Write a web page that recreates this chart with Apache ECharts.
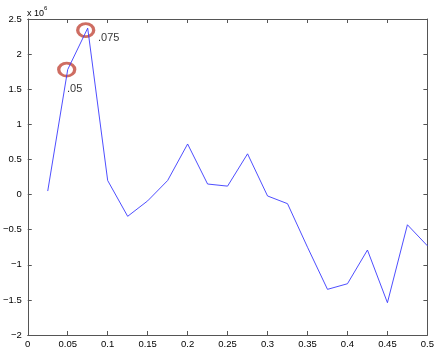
<!DOCTYPE html>
<html>
<head>
<meta charset="utf-8">
<script src="https://cdn.jsdelivr.net/npm/echarts@6/dist/echarts.min.js"></script>
<style>html,body{margin:0;padding:0;background:#fff}#c{width:437px;height:349px}</style>
</head>
<body>
<div id="c"></div>
<script>
// Data (y values in units of 10^6)
const xValues = [0.025,0.05,0.075,0.1,0.125,0.15,0.175,0.2,0.225,0.25,0.275,0.3,0.325,0.35,0.375,0.4,0.425,0.45,0.475,0.5];
const yValues = [0.05,1.78,2.37,0.2,-0.31,-0.09,0.2,0.72,0.15,0.12,0.58,-0.02,-0.13,-0.75,-1.35,-1.27,-0.79,-1.54,-0.43,-0.73];
const highlightX = [0.05, 0.075];
const highlightLabels = ['.05', '.075'];
const xTicks = ['0','0.05','0.1','0.15','0.2','0.25','0.3','0.35','0.4','0.45','0.5'];
const yTicks = ['-2','-1.5','-1','-0.5','0','0.5','1','1.5','2','2.5'];
const exponentLabel = '6';

const lineData = xValues.map((x, i) => [x, yValues[i]]);
// circle offsets / label positions (relative to symbol box) for each highlight
const hlStyle = [
  {symbolOffset: [-1, 0], labelPos: [10, 27.5]},
  {symbolOffset: [-2, 2], labelPos: [22, 15.5]}
];
const hlData = highlightX.map((x, i) => ({
  value: [x, yValues[xValues.indexOf(x)]],
  symbolOffset: hlStyle[i].symbolOffset,
  label: {position: hlStyle[i].labelPos}
}));

const chart = echarts.init(document.getElementById('c'), null, {renderer: 'canvas'});
const axisColor = '#555';
const font = 'Liberation Sans, Arial, Helvetica, sans-serif';
const fmtY = v => String(v).replace('-', '\u2212');

const baseAxis = {
  axisLine: {show: true, onZero: false, lineStyle: {color: axisColor, width: 1}},
  axisTick: {show: true, inside: true, length: 4, lineStyle: {color: axisColor}},
  splitLine: {show: false}
};

chart.setOption({
  animation: false,
  backgroundColor: '#fff',
  grid: {left: 27, right: 8, top: 19, bottom: 11, containLabel: false},
  xAxis: [
    Object.assign({}, baseAxis, {
      type: 'value', min: 0, max: 0.5, interval: 0.05, position: 'bottom',
      axisLabel: {fontSize: 9.5, color: '#000', fontFamily: font, margin: 4,
        formatter: v => xTicks[Math.round(v / 0.05)]}
    }),
    Object.assign({}, baseAxis, {
      type: 'value', min: 0, max: 0.5, interval: 0.05, position: 'top',
      axisLabel: {show: false}
    })
  ],
  yAxis: [
    Object.assign({}, baseAxis, {
      type: 'value', min: -2, max: 2.5, interval: 0.5, position: 'left',
      axisLabel: {fontSize: 9.5, color: '#000', fontFamily: font, margin: 6,
        formatter: v => fmtY(yTicks[Math.round((v + 2) / 0.5)])}
    }),
    Object.assign({}, baseAxis, {
      type: 'value', min: -2, max: 2.5, interval: 0.5, position: 'right',
      axisLabel: {show: false}
    })
  ],
  series: [
    {
      type: 'line', data: lineData, xAxisIndex: 0, yAxisIndex: 0,
      showSymbol: false, symbol: 'none',
      lineStyle: {color: '#3a3aff', width: 0.9}
    },
    {
      type: 'scatter', data: hlData, xAxisIndex: 0, yAxisIndex: 0,
      symbol: 'circle', symbolSize: [16, 13],
      itemStyle: {color: 'rgba(0,0,0,0)', borderColor: '#c2483b', borderWidth: 3},
      label: {
        show: true, fontSize: 11, color: '#000', fontFamily: font,
        align: 'left', verticalAlign: 'middle',
        formatter: p => highlightLabels[p.dataIndex]
      }
    }
  ],
  graphic: [{
    type: 'text', left: 27, top: 5,
    style: {
      text: '{b|x 10}{s|' + exponentLabel + '}',
      rich: {
        b: {fontSize: 9, fontFamily: font, fill: '#000', padding: [4, 0, 0, 0]},
        s: {fontSize: 6, fontFamily: font, fill: '#000', verticalAlign: 'top'}
      }
    }
  }]
});
</script>
</body>
</html>
